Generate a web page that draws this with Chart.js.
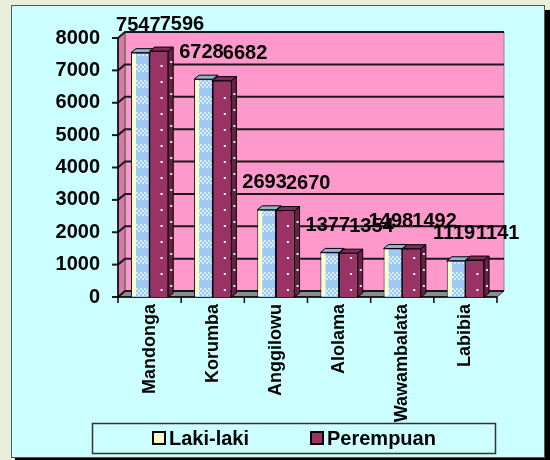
<!DOCTYPE html>
<html>
<head>
<meta charset="utf-8">
<script src="https://cdn.jsdelivr.net/npm/chart.js@4.4.0/dist/chart.umd.min.js"></script>
<style>
  html, body { margin: 0; padding: 0; background: #e9efdb; }
  #wrap { width: 550px; height: 460px; }
</style>
</head>
<body>
<div id="wrap"><canvas id="chart" width="550" height="460"></canvas></div>
<script>
// data
const categories = ['Mandonga', 'Korumba', 'Anggilowu', 'Alolama', 'Wawambalata', 'Labibia'];
const lakiLaki = [7547, 6728, 2693, 1377, 1498, 1119];
const perempuan = [7596, 6682, 2670, 1354, 1492, 1141];
const seriesNames = ['Laki-laki', 'Perempuan'];
const yTicks = [0, 1000, 2000, 3000, 4000, 5000, 6000, 7000, 8000];

const FONT = 'Arial, "Liberation Sans", sans-serif';
const WALL_DX = 7, WALL_DY = 6;   // depth of the back wall
const BAR_DX = 5, BAR_DY = 4;     // depth of the bars

// checker fill for the Laki-laki bars
function makePattern(w, h, draw) {
    const c = document.createElement('canvas');
    c.width = w; c.height = h;
    draw(c.getContext('2d'));
    return document.getElementById('chart').getContext('2d').createPattern(c, 'repeat');
}
const lakiFill = makePattern(8, 16, g => {
    g.fillStyle = '#9ec9f5';
    g.fillRect(0, 0, 8, 16);
    g.fillStyle = '#d8edff';
    for (let y = 0; y < 8; y += 2) {
        for (let x = (y / 2) % 2 ? 2 : 0; x < 8; x += 4) g.fillRect(x, y, 2, 2);
    }
});

function poly(ctx, pts, fill, stroke) {
    ctx.beginPath();
    ctx.moveTo(pts[0][0], pts[0][1]);
    pts.slice(1).forEach(p => ctx.lineTo(p[0], p[1]));
    ctx.closePath();
    if (fill) { ctx.fillStyle = fill; ctx.fill(); }
    if (stroke) { ctx.strokeStyle = stroke; ctx.stroke(); }
}

// panel, legend and 3D walls
const backdrop = {
    id: 'backdrop',
    beforeDraw(chart) {
        const ctx = chart.ctx;
        const { left, right, top, bottom } = chart.chartArea;
        const ys = chart.scales.y;
        ctx.save();
        ctx.fillStyle = '#e9efdb';
        ctx.fillRect(0, 0, chart.width, chart.height);
        ctx.fillStyle = '#000';
        ctx.fillRect(15, 10, chart.width, chart.height);
        ctx.fillStyle = '#ccffff';
        ctx.fillRect(11, 5, 534, 453);
        ctx.lineWidth = 1;
        ctx.strokeStyle = '#4a5a5a';
        ctx.strokeRect(11.5, 5.5, 533, 452);

        // legend
        ctx.lineWidth = 1.5;
        ctx.strokeStyle = '#333';
        ctx.strokeRect(92.5, 423.5, 403, 30);
        const markers = [['#ffffcc', 153], ['#993366', 311]];
        ctx.font = 'bold 20px ' + FONT;
        ctx.textBaseline = 'middle';
        ctx.textAlign = 'left';
        markers.forEach((m, i) => {
            ctx.fillStyle = m[0];
            ctx.fillRect(m[1], 432, 12, 12);
            ctx.lineWidth = 2;
            ctx.strokeStyle = '#000';
            ctx.strokeRect(m[1], 432, 12, 12);
            ctx.fillStyle = '#000';
            ctx.fillText(seriesNames[i], m[1] + 16, 439);
        });

        // back wall, side wall, floor
        ctx.lineWidth = 1;
        poly(ctx, [[left + WALL_DX, top - WALL_DY], [right + WALL_DX, top - WALL_DY],
                   [right + WALL_DX, bottom - WALL_DY], [left + WALL_DX, bottom - WALL_DY]], '#ff99cc', '#888');
        poly(ctx, [[left, top], [left + WALL_DX, top - WALL_DY],
                   [left + WALL_DX, bottom - WALL_DY], [left, bottom]], '#d77aa8', '#555');
        poly(ctx, [[left, bottom], [left + WALL_DX, bottom - WALL_DY],
                   [right + WALL_DX, bottom - WALL_DY], [right, bottom]], '#8c8c8c', '#444');

        // grid lines on the walls
        ctx.lineWidth = 2;
        ctx.strokeStyle = '#1a1a1a';
        yTicks.forEach(v => {
            const py = ys.getPixelForValue(v);
            ctx.beginPath();
            ctx.moveTo(left, py);
            ctx.lineTo(left + WALL_DX, py - WALL_DY);
            ctx.lineTo(right + WALL_DX, py - WALL_DY);
            ctx.stroke();
            // tick mark
            ctx.beginPath();
            ctx.moveTo(left - 6, py);
            ctx.lineTo(left, py);
            ctx.stroke();
        });

        // axes
        ctx.lineWidth = 1.5;
        ctx.strokeStyle = '#000';
        ctx.beginPath();
        ctx.moveTo(left, top);
        ctx.lineTo(left, bottom);
        ctx.lineTo(right, bottom);
        ctx.stroke();
        const n = categories.length;
        for (let i = 0; i <= n; i++) {
            const px = left + (right - left) * i / n;
            ctx.beginPath();
            ctx.moveTo(px, bottom);
            ctx.lineTo(px, bottom + 6);
            ctx.stroke();
        }
        ctx.restore();
    },
    beforeDatasetsDraw(chart) {
        const ctx = chart.ctx;
        const sides = ['#7aa3c6', '#6b2048'];
        const tops = ['#8fb4cf', '#7f2c58'];
        ctx.save();
        ctx.lineWidth = 1;
        chart.data.datasets.forEach((ds, di) => {
            chart.getDatasetMeta(di).data.forEach(bar => {
                const l = bar.x - bar.width / 2, r = bar.x + bar.width / 2;
                const t = bar.y, b = bar.base;
                poly(ctx, [[r, t], [r + BAR_DX, t - BAR_DY], [r + BAR_DX, b - BAR_DY], [r, b]], sides[di], '#000');
                poly(ctx, [[l, t], [l + BAR_DX, t - BAR_DY], [r + BAR_DX, t - BAR_DY], [r, t]], tops[di], '#000');
                if (di === 1) {
                    ctx.fillStyle = '#f4e6ee';
                    for (let y = b - 10; y > t + 2; y -= 16) ctx.fillRect(r + 2, y - 2, 2, 2);
                }
            });
        });
        ctx.restore();
    },
    afterDatasetsDraw(chart) {
        const ctx = chart.ctx;
        const offsets = [-2, 23];
        ctx.save();
        chart.data.datasets.forEach((ds, di) => {
            chart.getDatasetMeta(di).data.forEach(bar => {
                const l = bar.x - bar.width / 2;
                const t = bar.y, b = bar.base;
                if (di === 0) {
                    ctx.fillStyle = '#ffffcc';
                    ctx.fillRect(l + 1, t + 1, 4, b - t - 2);
                } else {
                    ctx.fillStyle = '#ffffff';
                    for (let y = b - 8; y > t + 3; y -= 16) ctx.fillRect(l + 11, y, 2, 2);
                }
            });
        });
        ctx.font = 'bold 20px ' + FONT;
        ctx.fillStyle = '#000';
        ctx.textAlign = 'center';
        ctx.textBaseline = 'middle';
        chart.data.datasets.forEach((ds, di) => {
            chart.getDatasetMeta(di).data.forEach((bar, i) => {
                ctx.fillText(String(ds.data[i]), bar.x + offsets[di], bar.y - 27);
            });
        });
        ctx.restore();
    }
};

new Chart(document.getElementById('chart'), {
    type: 'bar',
    data: {
        labels: categories,
        datasets: [{
            label: seriesNames[0],
            data: lakiLaki,
            backgroundColor: lakiFill,
            borderColor: '#000',
            borderWidth: 1
        }, {
            label: seriesNames[1],
            data: perempuan,
            backgroundColor: '#993366',
            borderColor: '#000',
            borderWidth: 1
        }]
    },
    options: {
        responsive: false,
        animation: false,
        categoryPercentage: 0.59,
        barPercentage: 1,
        layout: { padding: { top: 38, right: 53, bottom: 0, left: 0 } },
        plugins: {
            legend: { display: false },
            tooltip: { enabled: false }
        },
        scales: {
            x: {
                grid: { display: false, drawTicks: false },
                border: { display: false },
                ticks: {
                    minRotation: 90,
                    maxRotation: 90,
                    padding: 7,
                    color: '#000',
                    font: { family: FONT, size: 18, weight: 'bold' }
                },
                afterFit(s) { s.height = 163; }
            },
            y: {
                min: yTicks[0],
                max: yTicks[yTicks.length - 1],
                grid: { display: false, drawTicks: false },
                border: { display: false },
                ticks: {
                    stepSize: yTicks[1] - yTicks[0],
                    padding: 18,
                    color: '#000',
                    font: { family: FONT, size: 20, weight: 'bold' },
                    callback: v => String(v)
                },
                afterFit(s) { s.width = 118; }
            }
        }
    },
    plugins: [backdrop]
});
</script>
</body>
</html>
